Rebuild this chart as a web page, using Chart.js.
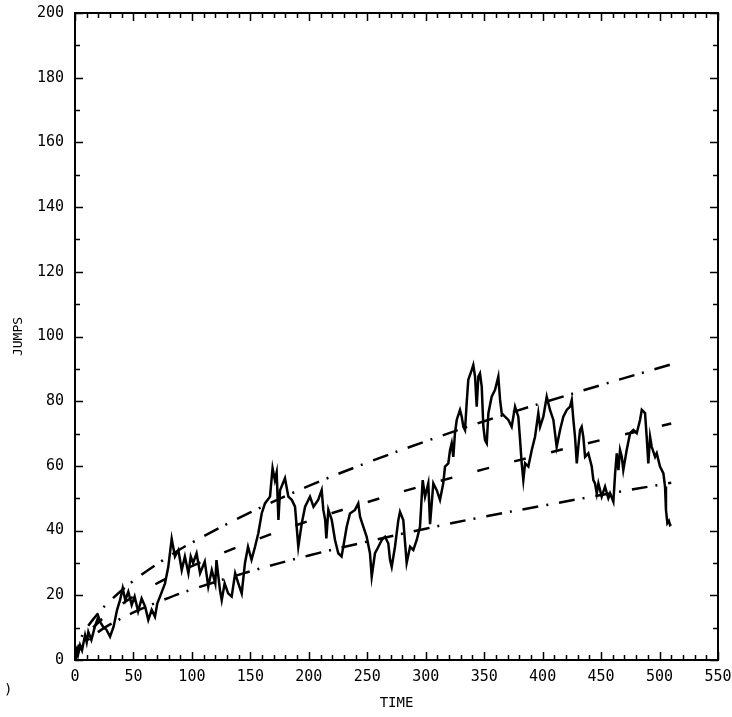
<!DOCTYPE html>
<html>
<head>
<meta charset="utf-8">
<script src="https://cdn.jsdelivr.net/npm/chart.js@4.4.1/dist/chart.umd.min.js"></script>
<style>
  html, body { margin: 0; padding: 0; background: #fff; }
  #wrap { position: relative; width: 732px; height: 717px; }
</style>
</head>
<body>
<div id="wrap"><canvas id="c"></canvas></div>
<script>
// ---- data ----
const TIME = [0,1.4,2.5,4.3,6,8.6,10,11.4,14,17,20,22,24,27,30,33,36,38.5,40.8,43,45.6,48.5,51,54,57,60,62.7,65.6,68.4,70.4,72.7,77,79.8,82.7,85.5,88.4,91.3,94,97,99,101,104,107,111,114,117,120,121,124,125.5,128,131,134,137,139.7,142.6,145.4,148,151,154,156.8,159.7,162.5,166.8,169,171,172.5,174,175.4,179.6,182.5,185.4,188.2,191,194,196.8,201,204,208,211,212.4,214,215,216.7,219.6,222.4,225.2,228,229.5,232.4,235.2,239.5,242.3,243.8,246.6,249.5,252.3,253.8,256.6,259.5,262.4,265.2,268,269.5,270.9,273.7,276.6,278,280.8,283.7,286.6,289.4,292.3,295.1,297.4,299.4,302.2,303.7,306.5,309.4,312.2,315,316.5,319.3,320.8,322.2,323.6,325,326.5,329.3,330.8,332.2,333.6,335,336.4,339.3,340.7,342.2,343.6,345,346.4,347.9,349.3,350.7,352.2,353.6,356.4,359.3,362.1,363.6,365,367.8,370.7,373.5,376.4,379.2,380.7,382.1,383.5,385,387.8,390.7,393.5,396.3,397.8,400.6,403.5,406.3,409.2,412,414.9,417.7,420.6,423.4,424.9,426.3,427.7,429.2,430.5,432,433.4,434.8,436.3,439.1,442,443.4,444.8,446.3,447.7,450.5,453.4,456.2,457.7,460.5,462,463.4,464.8,466.2,467.7,469,471.9,474.8,477.6,480.5,483.3,484.8,487.6,489,490.4,491.9,493.3,496.2,497.6,500.4,503.3,504.7,505.5,506.7,508,509,510];
const JUMPS = [1,3,1.5,4.6,3,7.7,5.5,8.7,6.2,10.3,13.4,11.5,10.3,9.3,7.2,10.3,15.5,18.5,22.2,18.5,21.1,17,19.6,15,19,16.5,12.4,15.5,13.4,17.5,19.6,23.7,28.8,37.5,32,34,27.8,32,26.8,32,30,33,26.8,30.4,22.7,27.8,23.7,30.9,21.6,18.5,23.7,20.6,19.6,26.8,23.7,20.6,30,35,31,35,39.2,45.3,48.4,50.5,59.3,55.6,58,43.3,52.5,56.2,50.5,49.5,47.4,35,42.3,47.4,50.5,47.4,49.5,52.5,46.4,43.3,37.6,46.4,43.3,37.1,33,32,35,41.2,45.3,46.4,48.4,44.3,41.2,38.1,33,25.8,33,35,37.1,38.1,36,30.9,28.8,35,43.3,45.8,43.3,30,35,34,37.1,41.2,55.6,50.5,54.6,42,54.6,52.5,49.5,54.6,59.8,60.8,64.9,67,62.8,70.1,74.2,77.3,75.2,72.1,71.1,79.3,86.6,89.6,91.2,87.6,78.3,87.6,88.6,84.5,72.1,68,67,76.3,81.4,83.5,87.6,80.4,76.3,75.2,74.2,72.1,78.3,75.2,68,60.8,55.6,60.8,59.8,64.9,69,76.3,72.1,75.2,81.4,77.3,74.2,65.9,71.1,75.2,77.3,78.3,80.4,74.2,69,60.8,65.9,71.1,72.1,69,62.8,63.9,59.8,55.6,54.6,51.5,54.6,50.5,53.6,50,51.5,48.9,57.7,63.9,58.7,64.9,62.8,58.7,64.9,70.1,71.1,70.1,74.2,77.3,76.3,69,60.8,69,65.9,62.8,63.9,59.8,57.7,53.6,46.4,42.3,43,41.7,42];

const CURVE_T     = [0, 5, 10, 20, 30, 50, 75, 100, 150, 200, 250, 300, 350, 400, 450, 510];
const CURVE_UPPER = [0, 6.6, 9.9, 14.5, 18.3, 24.5, 30.8, 36.3, 45.6, 53.8, 61.0, 67.6, 73.8, 79.5, 85.0, 91.4];
const CURVE_MID   = [0, 5.3, 7.9, 11.6, 14.6, 19.6, 24.6, 29.0, 36.5, 43.0, 48.8, 54.1, 59.0, 63.6, 68.0, 73.1];
const CURVE_LOWER = [0, 4.0, 5.9, 8.7, 11.0, 14.7, 18.5, 21.8, 27.4, 32.3, 36.6, 40.6, 44.3, 47.7, 51.0, 54.8];

const X_TICKS = [0, 50, 100, 150, 200, 250, 300, 350, 400, 450, 500, 550];
const Y_TICKS = [0, 20, 40, 60, 80, 100, 120, 140, 160, 180, 200];
const X_TITLE = 'TIME';
const Y_TITLE = 'JUMPS';
const STRAY_MARK = ')';

// ---- build ----
const pairs = (xs, ys) => xs.map((x, i) => ({ x: x, y: ys[i] }));

const frameTicks = {
  id: 'frameTicks',
  afterDraw(chart) {
    const { ctx, chartArea: { left, right, top, bottom }, scales: { x, y } } = chart;
    ctx.save();
    ctx.strokeStyle = '#000';
    ctx.lineWidth = 2;
    ctx.strokeRect(left, top, right - left, bottom - top);
    ctx.lineWidth = 1.5;
    const xStep = (X_TICKS[1] - X_TICKS[0]) / 5;
    for (let v = X_TICKS[0]; v <= X_TICKS[X_TICKS.length - 1] + 1e-6; v += xStep) {
      const px = Math.round(x.getPixelForValue(v)) + 0.5;
      const major = Math.abs(v % (xStep * 5)) < 1e-6;
      const len = major ? 8 : 5;
      ctx.beginPath();
      ctx.moveTo(px, bottom); ctx.lineTo(px, bottom - len);
      ctx.moveTo(px, top); ctx.lineTo(px, top + len);
      ctx.stroke();
    }
    const yStep = (Y_TICKS[1] - Y_TICKS[0]) / 2;
    for (let v = Y_TICKS[0]; v <= Y_TICKS[Y_TICKS.length - 1] + 1e-6; v += yStep) {
      const py = Math.round(y.getPixelForValue(v)) + 0.5;
      const major = Math.abs(v % (yStep * 2)) < 1e-6;
      const len = major ? 8 : 5;
      ctx.beginPath();
      ctx.moveTo(left, py); ctx.lineTo(left + len, py);
      ctx.moveTo(right, py); ctx.lineTo(right - len, py);
      ctx.stroke();
    }
    ctx.fillStyle = '#000';
    ctx.font = "14px 'DejaVu Sans Mono'";
    ctx.textAlign = 'left';
    ctx.textBaseline = 'middle';
    ctx.fillText(STRAY_MARK, 4, 690);
    ctx.restore();
  }
};

Chart.defaults.font.family = "'DejaVu Sans Mono', monospace";
Chart.defaults.font.size = 15;
Chart.defaults.color = '#000';

new Chart(document.getElementById('c'), {
  type: 'line',
  data: {
    datasets: [
      { data: pairs(TIME, JUMPS), borderColor: '#000', borderWidth: 2.5, pointRadius: 0, tension: 0 },
      { data: pairs(CURVE_T, CURVE_UPPER), borderColor: '#000', borderWidth: 2.5, pointRadius: 0, tension: 0.4, borderDash: [16, 8, 2, 11] },
      { data: pairs(CURVE_T, CURVE_MID), borderColor: '#000', borderWidth: 2.5, pointRadius: 0, tension: 0.4, borderDash: [12, 26] },
      { data: pairs(CURVE_T, CURVE_LOWER), borderColor: '#000', borderWidth: 2.5, pointRadius: 0, tension: 0.4, borderDash: [16, 8, 2, 11] }
    ]
  },
  options: {
    responsive: true,
    maintainAspectRatio: false,
    animation: false,
    events: [],
    layout: { padding: { top: 13, right: 14, left: 0, bottom: 0 } },
    plugins: { legend: { display: false }, tooltip: { enabled: false } },
    scales: {
      x: {
        type: 'linear',
        min: X_TICKS[0], max: X_TICKS[X_TICKS.length - 1],
        afterBuildTicks: (s) => { s.ticks = X_TICKS.map(v => ({ value: v })); },
        afterFit: (s) => { s.height = 57; s.paddingLeft = 0; s.paddingRight = 0; },
        grid: { display: false, drawTicks: false },
        border: { display: false },
        ticks: { padding: 8, maxRotation: 0, autoSkip: false },
        title: { display: true, text: X_TITLE, font: { size: 14 }, padding: { top: 0, bottom: 5 } }
      },
      y: {
        type: 'linear',
        min: Y_TICKS[0], max: Y_TICKS[Y_TICKS.length - 1],
        afterBuildTicks: (s) => { s.ticks = Y_TICKS.map(v => ({ value: v })); },
        afterFit: (s) => { s.width = 75; s.paddingTop = 0; s.paddingBottom = 0; },
        grid: { display: false, drawTicks: false },
        border: { display: false },
        ticks: { padding: 11, autoSkip: false },
        title: { display: true, text: Y_TITLE, font: { size: 13 }, padding: { top: 11, bottom: 0 } }
      }
    }
  },
  plugins: [frameTicks]
});
</script>
</body>
</html>
